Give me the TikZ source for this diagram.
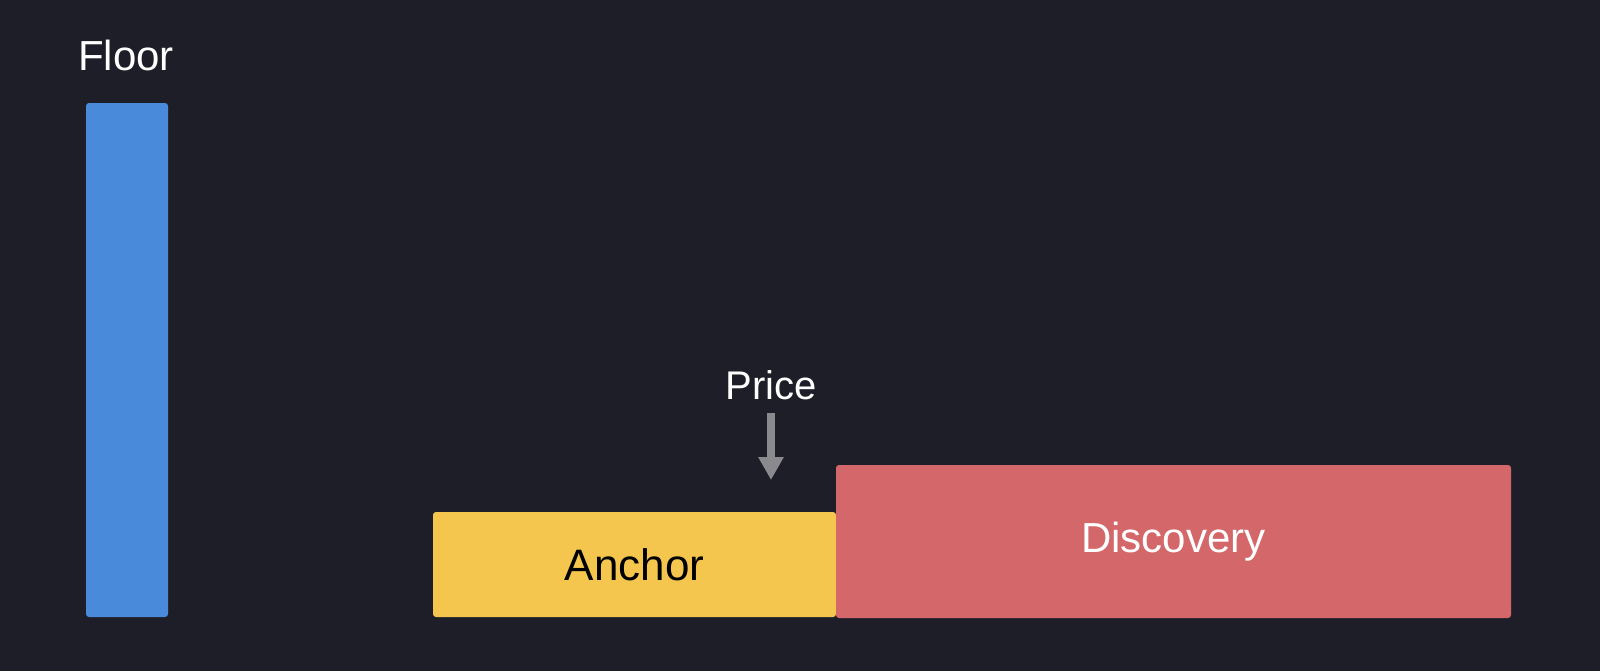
\documentclass[tikz,border=0pt]{standalone}
\usepackage{fontspec}
\setmainfont{Liberation Sans}
\usetikzlibrary{arrows.meta}
\definecolor{bg}{HTML}{1E1E29}
\definecolor{floorblue}{HTML}{4A8ADA}
\definecolor{anchoryellow}{HTML}{F4C64E}
\definecolor{discred}{HTML}{D4676A}
\definecolor{arrowgrey}{HTML}{8A8A8E}
\begin{document}
\begin{tikzpicture}[x=0.5pt, y=-0.5pt,
    bar/.style={rectangle, rounded corners=1.5pt, inner sep=0pt},
    label/.style={anchor=base, inner sep=0pt, text=white, font=\fontsize{21}{25}\selectfont}]
\fill[bg] (0,0) rectangle (1600,671);
\useasboundingbox (0,0) rectangle (1600,671);
    \node[bar, fill=floorblue, minimum width=41pt, minimum height=257pt] (floor) at (127,360) {};
    \node[bar, fill=anchoryellow, minimum width=201.5pt, minimum height=52.5pt, font=\fontsize{22}{26}\selectfont] (anchor) at (634.5,564.5) {Anchor};
    \node[bar, fill=discred, minimum width=337.5pt, minimum height=76.5pt, text=white, font=\fontsize{21}{25}\selectfont] (discovery) at (1173.5,541.5) {Discovery};
    \node[label] (floorlabel) at (126,70) {Floor};
    \node[label, font=\fontsize{20}{24}\selectfont] (price) at (771,399) {Price};
\coordinate (p0) at (771,413);
\coordinate (p1) at (771,480);
\draw[arrowgrey, line width=4pt, -{Triangle[width=12pt, length=11.5pt]}] (p0) -- (p1);
\end{tikzpicture}
\end{document}
